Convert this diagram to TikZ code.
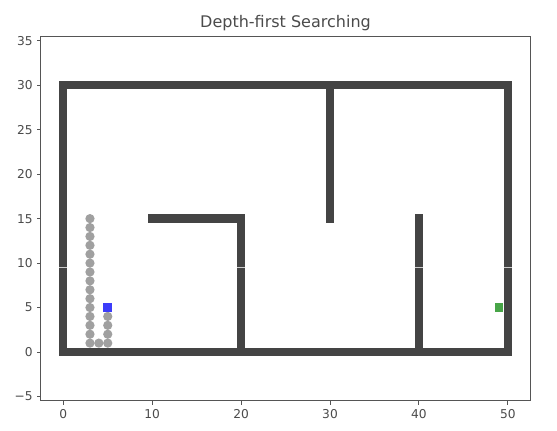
\documentclass[tikz,border=0pt]{standalone}
\usepackage{fontspec}
\setmainfont{DejaVu Sans}
\definecolor{wallc}{RGB}{68,68,68}
\definecolor{pathc}{RGB}{160,160,160}
\definecolor{startc}{RGB}{60,60,250}
\definecolor{goalc}{RGB}{72,165,72}
\definecolor{axc}{RGB}{85,85,85}
\definecolor{txtc}{RGB}{75,75,75}
\definecolor{seamc}{RGB}{205,205,205}
\tikzset{
  wall/.style={fill=wallc, draw=none},
  visited/.style={fill=pathc, draw=none},
  spine/.style={draw=axc, line width=0.9pt},
  tickmark/.style={draw=axc, line width=0.9pt},
  ticklab/.style={text=txtc, font=\fontsize{12.2}{14}\selectfont, inner sep=0pt},
  seam/.style={draw=seamc, line width=0.7pt}
}
\begin{document}
\begin{tikzpicture}[x=1pt,y=1pt]
\useasboundingbox (0,0) rectangle (557,431);
\fill[white] (0,0) rectangle (557,431);
% title
\node[text=txtc, font=\fontsize{16}{19}\selectfont, anchor=base, inner sep=0pt] (title) at (285.5,403) {Depth-first Searching};
\begin{scope}[shift={(63.3,79)}, x=8.89pt, y=8.89pt]
  \def\h{0.47}
  % axes frame
  \coordinate (bl) at (-2.53,-5.5);
  \coordinate (tr) at (52.53,35.5);
  % walls
  \fill[wall] (-\h,30-\h) rectangle (50+\h,30+\h);
  \fill[wall] (-\h,-\h) rectangle (50+\h,\h);
  \fill[wall] (-\h,-\h) rectangle (\h,30+\h);
  \fill[wall] (50-\h,-\h) rectangle (50+\h,30+\h);
  \fill[wall] (20-\h,-\h) rectangle (20+\h,15+\h);
  \fill[wall] (10-\h,15-\h) rectangle (20+\h,15+\h);
  \fill[wall] (30-\h,15-\h) rectangle (30+\h,30+\h);
  \fill[wall] (40-\h,-\h) rectangle (40+\h,15+\h);
  % seams
  \foreach \sx in {0,20,40,50} {
    \draw[seam] (\sx-\h,9.55) -- (\sx+\h,9.55);
  }
  % visited cells
  \foreach \yy in {1,...,15} { \fill[visited] (3,\yy) circle (0.52); }
  \fill[visited] (4,1) circle (0.52);
  \foreach \yy in {1,...,4} { \fill[visited] (5,\yy) circle (0.52); }
  % start and goal
  \fill[startc] (5-0.48,5-0.48) rectangle (5+0.48,5+0.48);
  \fill[goalc] (49-0.48,5-0.48) rectangle (49+0.48,5+0.48);
  % spines
  \draw[spine] (bl) rectangle (tr);
  % x ticks
  \foreach \xv in {0,10,20,30,40,50} {
    \coordinate (xt\xv) at (\xv,-5.5);
    \draw[tickmark] (xt\xv) -- ++(0,-4pt);
    \node[ticklab, anchor=north] (xl\xv) at ([yshift=-8pt]xt\xv) {\xv};
  }
  % y ticks
  \foreach \yv/\yl in {-5/{−5},0/0,5/5,10/10,15/15,20/20,25/25,30/30,35/35} {
    \coordinate (yt\yv) at (-2.53,\yv);
    \draw[tickmark] (yt\yv) -- ++(-4pt,0);
    \node[ticklab, anchor=east] (yl\yv) at ([xshift=-8pt]yt\yv) {\yl};
  }
\end{scope}
\end{tikzpicture}
\end{document}
